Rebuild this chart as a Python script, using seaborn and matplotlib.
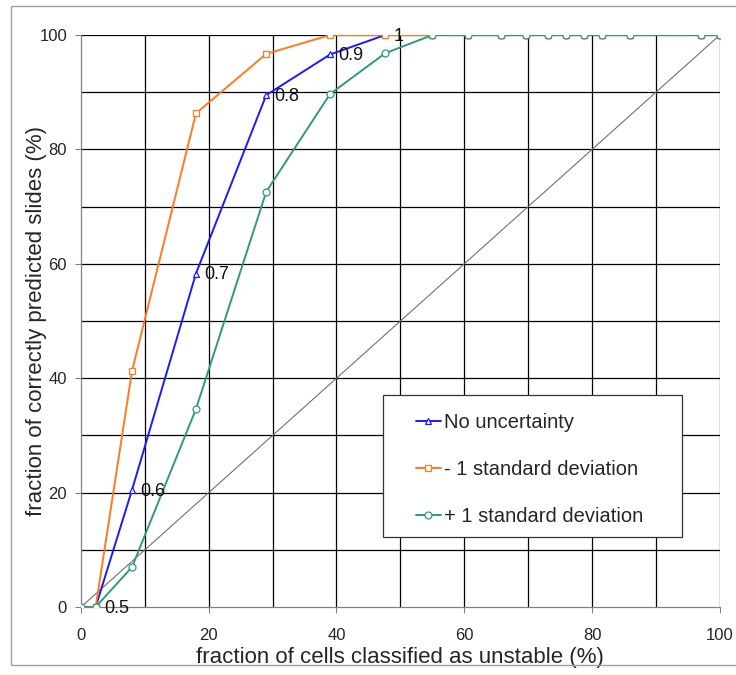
import matplotlib
matplotlib.use("Agg")
import matplotlib.pyplot as plt
import seaborn as sns
import pandas as pd
from matplotlib.patches import Rectangle

# fraction of cells classified as unstable (%), shared by all three curves
cells_unstable = [0, 2.3, 8, 18, 29, 39, 47.6, 55, 60.6, 65.8, 69.7, 73.1, 76, 78.7, 81.5, 86, 97, 100]

# fraction of correctly predicted slides (%)
no_uncertainty = [0, 0, 20.5, 58.3, 89.5, 96.6, 100, 100, 100, 100, 100, 100, 100, 100, 100, 100, 100, 100]
minus_1sd = [0, 0, 41.3, 86.3, 96.7, 100, 100, 100, 100, 100, 100, 100, 100, 100, 100, 100, 100, 100]
plus_1sd = [0, 0, 7.0, 34.6, 72.6, 89.7, 96.8, 100, 100, 100, 100, 100, 100, 100, 100, 100, 100, 100]

# threshold labels on the "no uncertainty" curve
thresholds = ["0.5", "0.6", "0.7", "0.8", "0.9", "1"]
threshold_idx = [1, 2, 3, 4, 5, 6]

diag_x = [0, 100]
diag_y = [0, 100]

sns.set_theme(style="white")
plt.rcParams["font.family"] = ["Liberation Sans", "DejaVu Sans"]

fig = plt.figure(figsize=(7.36, 6.75), dpi=100)
ax = fig.add_axes([0.110, 0.1007, 0.868, 0.8474])

# grid every 10
for v in range(10, 101, 10):
    ax.axvline(v, color="black", lw=0.9, zorder=1)
    ax.axhline(v, color="black", lw=0.9, zorder=1)

sns.lineplot(x=diag_x, y=diag_y, color="#707070", lw=0.8, ax=ax, zorder=2)

series = [
    ("No uncertainty", no_uncertainty, "#1a1aff", "^"),
    ("- 1 standard deviation", minus_1sd, "#ff7a1f", "s"),
    ("+ 1 standard deviation", plus_1sd, "#2f9a78", "o"),
]
for name, vals, col, mk in series:
    df = pd.DataFrame({"x": cells_unstable, "y": vals})
    sns.lineplot(data=df, x="x", y="y", color=col, lw=1.4, marker=mk, markersize=5,
                 markerfacecolor="white", markeredgecolor=col, markeredgewidth=0.9,
                 label=name, ax=ax, zorder=3, sort=False)

for lab, i in zip(thresholds, threshold_idx):
    ax.annotate(lab, (cells_unstable[i], no_uncertainty[i]), xytext=(6, -1),
                textcoords="offset points", ha="left", va="center", fontsize=13, color="#111111")

ax.set_xlim(0, 100)
ax.set_ylim(0, 100)
ax.set_xticks(range(0, 101, 20))
ax.set_yticks(range(0, 101, 20))
ax.tick_params(axis="both", which="major", labelsize=12, length=4, width=0.8,
               color="#808080", direction="out", bottom=True, left=True)
ax.tick_params(axis="x", pad=11)
ax.tick_params(axis="y", pad=6)
for s in ["top", "right"]:
    ax.spines[s].set_visible(False)
for s in ["left", "bottom"]:
    ax.spines[s].set_color("#808080")
    ax.spines[s].set_linewidth(0.9)

ax.set_xlabel("fraction of cells classified as unstable (%)", fontsize=16, labelpad=3)
ax.set_ylabel("fraction of correctly predicted slides (%)", fontsize=16)
ax.yaxis.set_label_coords(-0.053, 0.5)

# legend box drawn separately, entries placed inside it
ax.add_patch(Rectangle((0.4726, 0.1224), 0.468, 0.2482, transform=ax.transAxes,
                       facecolor="white", edgecolor="#333333", lw=0.9, zorder=5))
leg = ax.legend(loc="upper left", bbox_to_anchor=(0.524, 0.339), borderaxespad=0,
                frameon=False, fontsize=14.5, borderpad=0, labelspacing=1.38,
                handlelength=1.25, handletextpad=0.15)
leg.set_zorder(6)

fig.patches.append(Rectangle((11 / 736, 1 - 665 / 675), 1.0, (665 - 6) / 675, transform=fig.transFigure,
                             fill=False, edgecolor="#a0a0a0", lw=1.0))

fig.savefig("out.png", dpi=100)
